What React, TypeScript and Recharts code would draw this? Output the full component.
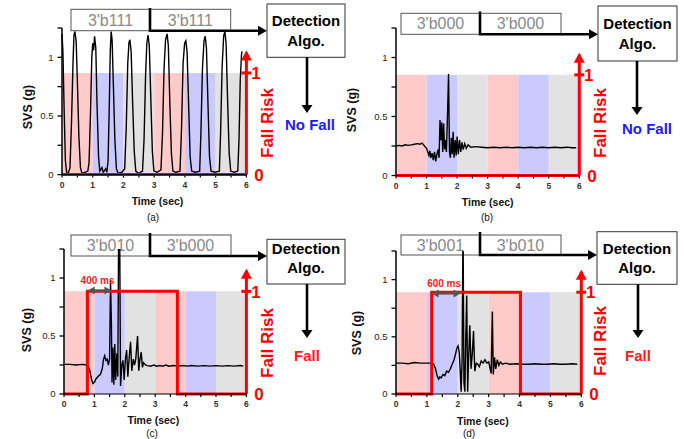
import React from 'react';
import { ComposedChart, Line, XAxis, YAxis, ReferenceArea, ReferenceLine, ReferenceDot } from 'recharts';

const FONT = "'Liberation Sans', Arial, Helvetica, sans-serif";

// ---------- data ----------
const TIME_TICKS = [0, 0.5, 1, 1.5, 2, 2.5, 3, 3.5, 4, 4.5, 5, 5.5, 6];
const TIME_LABELS = [0, 1, 2, 3, 4, 5, 6];
const SVS_TICKS = [0, 0.25, 0.5, 0.75, 1, 1.25];
const SVS_LABELS = [0, 0.5, 1];
const RISK_TICKS = [0, 1];
const RISK_ARROW = 1.2;
const BAND_EDGES = [0, 1, 2, 3, 4, 5, 6];
const BAND_KINDS = ['pink', 'blue', 'gray', 'pink', 'blue', 'gray'];
const BAND_COLORS: Record<string, string> = { pink: '#ffcaca', blue: '#cacaff', gray: '#e2e2e2' };

const svsA: [number, number][] = [
  [0, 1.2], [0.03, 1.05], [0.07, 0.55], [0.11, 0.12], [0.15, 0.02], [0.2, 0.01],
  [0.26, 0.06], [0.31, 0.45], [0.36, 0.97], [0.39, 1.19], [0.42, 1.22], [0.46, 1.14], [0.5, 0.8], [0.55, 0.32], [0.6, 0.06], [0.65, 0.01], [0.75, 0.02], [0.84, 0.03],
  [0.88, 0.1], [0.93, 0.55], [0.97, 1.0], [1.0, 1.12], [1.03, 1.06], [1.06, 1.18], [1.1, 1.08], [1.14, 0.6], [1.19, 0.15], [1.23, 0.03], [1.3, 0.06], [1.34, 0.02], [1.42, 0.05], [1.46, 0.02],
  [1.5, 0.12], [1.54, 0.6], [1.57, 1.05], [1.6, 1.22], [1.63, 1.15], [1.67, 0.78], [1.72, 0.3], [1.77, 0.05], [1.83, 0.01], [1.95, 0.02], [2.04, 0.05],
  [2.09, 0.4], [2.14, 0.95], [2.18, 1.13], [2.21, 1.15], [2.25, 1.05], [2.3, 0.6], [2.35, 0.2], [2.4, 0.03], [2.5, 0.01], [2.62, 0.03],
  [2.67, 0.3], [2.72, 0.85], [2.76, 1.12], [2.8, 1.19], [2.84, 1.1], [2.89, 0.65], [2.94, 0.2], [2.99, 0.03], [3.1, 0.02], [3.22, 0.04],
  [3.27, 0.35], [3.32, 0.9], [3.37, 1.15], [3.42, 1.2], [3.46, 1.1], [3.51, 0.6], [3.56, 0.18], [3.61, 0.03], [3.7, 0.02], [3.84, 0.03],
  [3.89, 0.4], [3.94, 0.95], [3.99, 1.12], [4.03, 1.14], [4.07, 1.05], [4.12, 0.6], [4.17, 0.15], [4.22, 0.03], [4.33, 0.02], [4.48, 0.03],
  [4.52, 0.35], [4.57, 0.9], [4.62, 1.14], [4.66, 1.18], [4.7, 1.08], [4.75, 0.6], [4.8, 0.15], [4.85, 0.03], [4.98, 0.02], [5.12, 0.03],
  [5.16, 0.35], [5.21, 0.92], [5.26, 1.18], [5.3, 1.22], [5.34, 1.12], [5.39, 0.62], [5.44, 0.18], [5.49, 0.03], [5.6, 0.02], [5.72, 0.03],
  [5.76, 0.3], [5.8, 0.8], [5.84, 1.02], [5.86, 1.05],
];

const svsB: [number, number][] = [
  [0, 0.25], [0.1, 0.255], [0.2, 0.25], [0.3, 0.26], [0.4, 0.255], [0.5, 0.26], [0.6, 0.265], [0.7, 0.27], [0.78, 0.265], [0.85, 0.275], [0.9, 0.26], [0.95, 0.245],
  [1.0, 0.23], [1.04, 0.2], [1.08, 0.17], [1.11, 0.21], [1.14, 0.15], [1.18, 0.19], [1.22, 0.13], [1.26, 0.2], [1.3, 0.12], [1.34, 0.18], [1.38, 0.22], [1.41, 0.15],
  [1.44, 0.47], [1.47, 0.3], [1.5, 0.45], [1.53, 0.2], [1.56, 0.44], [1.59, 0.22], [1.62, 0.3], [1.65, 0.2], [1.69, 0.55], [1.72, 0.86], [1.75, 0.2], [1.78, 0.15],
  [1.81, 0.32], [1.84, 0.18], [1.87, 0.37], [1.9, 0.15], [1.94, 0.3], [1.97, 0.17], [2.0, 0.33], [2.04, 0.18], [2.08, 0.3], [2.12, 0.2], [2.16, 0.28], [2.2, 0.22],
  [2.25, 0.27], [2.3, 0.23], [2.36, 0.26], [2.45, 0.24], [2.6, 0.245], [2.8, 0.24], [3.0, 0.235], [3.2, 0.24], [3.4, 0.235], [3.6, 0.24], [3.8, 0.235], [4.0, 0.24],
  [4.2, 0.235], [4.4, 0.24], [4.6, 0.235], [4.8, 0.24], [5.0, 0.235], [5.2, 0.24], [5.4, 0.235], [5.6, 0.24], [5.75, 0.235], [5.9, 0.235],
];

const svsC: [number, number][] = [
  [0, 0.255], [0.2, 0.255], [0.4, 0.25], [0.6, 0.255], [0.75, 0.25], [0.8, 0.24], [0.85, 0.2], [0.9, 0.13], [0.95, 0.09], [1.0, 0.1], [1.05, 0.13], [1.12, 0.15],
  [1.2, 0.17], [1.26, 0.22], [1.3, 0.3], [1.34, 0.33], [1.38, 0.29], [1.42, 0.3], [1.46, 0.25], [1.5, 0.3], [1.53, 0.98], [1.56, 0.6], [1.58, 0.1], [1.61, 0.4],
  [1.64, 0.08], [1.67, 0.43], [1.7, 0.12], [1.74, 0.35], [1.77, 0.15], [1.8, 1.5], [1.83, 1.5], [1.86, 0.07], [1.9, 0.25], [1.94, 0.29], [1.98, 0.12], [2.02, 0.3],
  [2.06, 0.38], [2.1, 0.15], [2.14, 0.3], [2.19, 0.45], [2.23, 0.2], [2.28, 0.3], [2.32, 0.25], [2.36, 0.3], [2.42, 0.5], [2.46, 0.2], [2.5, 0.3], [2.54, 0.36],
  [2.58, 0.23], [2.62, 0.27], [2.68, 0.25], [2.75, 0.245], [2.85, 0.24], [2.95, 0.25], [3.05, 0.24], [3.15, 0.245], [3.25, 0.24], [3.35, 0.25], [3.45, 0.24],
  [3.6, 0.245], [3.75, 0.24], [3.9, 0.245], [4.05, 0.24], [4.2, 0.245], [4.4, 0.24], [4.6, 0.245], [4.8, 0.24], [5.0, 0.245], [5.2, 0.24], [5.4, 0.245],
  [5.6, 0.24], [5.8, 0.245], [5.9, 0.24],
];

const svsD: [number, number][] = [
  [0, 0.27], [0.2, 0.27], [0.4, 0.265], [0.6, 0.275], [0.8, 0.27], [1.0, 0.27], [1.15, 0.27], [1.22, 0.26], [1.28, 0.22], [1.33, 0.16], [1.38, 0.13], [1.42, 0.15],
  [1.46, 0.14], [1.52, 0.17], [1.58, 0.16], [1.64, 0.2], [1.7, 0.19], [1.76, 0.22], [1.82, 0.26], [1.88, 0.3], [1.93, 0.35], [1.97, 0.4], [2.01, 0.42], [2.05, 0.36],
  [2.08, 0.2], [2.11, 0.02], [2.14, 0.3], [2.17, 1.5], [2.2, 0.1], [2.23, 0.02], [2.26, 0.5], [2.29, 0.86], [2.32, 0.02], [2.35, 0.3], [2.39, 0.6], [2.43, 0.22],
  [2.47, 0.35], [2.51, 0.55], [2.55, 0.2], [2.6, 0.27], [2.65, 0.26], [2.7, 0.24], [2.76, 0.29], [2.82, 0.27], [2.88, 0.3], [2.94, 0.27], [3.0, 0.28], [3.05, 0.22],
  [3.08, 0.18], [3.12, 0.72], [3.15, 0.17], [3.19, 0.32], [3.23, 0.22], [3.28, 0.3], [3.33, 0.25], [3.38, 0.28], [3.45, 0.26], [3.55, 0.27], [3.7, 0.26],
  [3.9, 0.265], [4.1, 0.26], [4.3, 0.26], [4.5, 0.265], [4.7, 0.26], [4.9, 0.26], [5.1, 0.265], [5.3, 0.26], [5.5, 0.26], [5.7, 0.265], [5.87, 0.26],
];

const riskA: [number, number][] = [[0, 0], [6, 0]];
const riskB: [number, number][] = [[0, 0], [6, 0]];
const riskC: [number, number][] = [[0, 0], [0.77, 1], [3.73, 0], [6, 0]];
const riskD: [number, number][] = [[0, 0], [1.155, 1], [4.03, 0], [6, 0]];

const codesA = ["3'b111", "3'b111"];
const codesB = ["3'b000", "3'b000"];
const codesC = ["3'b010", "3'b000"];
const codesD = ["3'b001", "3'b010"];
const resultA = 'No Fall';
const resultB = 'No Fall';
const resultC = 'Fall';
const resultD = 'Fall';
const delayC = { label: '400 ms', from: 0.77, to: 1.55 };
const delayD = { label: '600 ms', from: 1.155, to: 2.09 };

// ---------- layout ----------
type Geo = { x0: number; x6: number; y0: number; y1: number; band: number };
const GEO: Record<string, Geo> = {
  a: { x0: 62.3, x6: 246.7, y0: 175, y1: 57.7, band: 0.867 },
  b: { x0: 396, x6: 579.3, y0: 175.7, y1: 57.7, band: 0.853 },
  c: { x0: 64.3, x6: 246.7, y0: 393.7, y1: 277.7, band: 0.885 },
  d: { x0: 396, x6: 581.3, y0: 393.7, y1: 279.3, band: 0.89 },
};

type Lay = {
  boxX: number[]; boxY: number[]; stemTop: number; det: number[]; detText: number[];
  arrowX: number; arrowTip: number; result: number[]; resultColor: string;
  riskLbl: number[]; svsLbl: number[]; timeLbl: number[]; letter: number[]; letterText: string;
};
const LAY: Record<string, Lay> = {
  a: { boxX: [71, 150, 230.7], boxY: [9.3, 30.7], stemTop: 8, det: [267, 4, 345, 57.3], detText: [20.5, 40.5], arrowX: 307, arrowTip: 113, result: [310, 124], resultColor: '#1a1aff', riskLbl: [267, 123], svsLbl: [28, 107], timeLbl: [157.5, 201], letter: [153, 221], letterText: '(a)' },
  b: { boxX: [401, 480, 561], boxY: [13.3, 34.3], stemTop: 11.5, det: [598, 6, 677, 61], detText: [23.3, 43.3], arrowX: 637, arrowTip: 115, result: [647, 128], resultColor: '#1a1aff', riskLbl: [600, 123], svsLbl: [352, 110], timeLbl: [487.7, 201.7], letter: [487, 221], letterText: '(b)' },
  c: { boxX: [71, 150, 231], boxY: [235, 256], stemTop: 233, det: [267, 239.3, 345, 284], detText: [248.3, 267.3], arrowX: 307, arrowTip: 338, result: [307, 355], resultColor: '#ff1a1a', riskLbl: [267, 343], svsLbl: [26.7, 330], timeLbl: [153.3, 420], letter: [152, 437], letterText: '(c)' },
  d: { boxX: [401, 480, 561], boxY: [235, 255], stemTop: 232, det: [597, 231.7, 677, 284.3], detText: [248.3, 267.3], arrowX: 638, arrowTip: 338, result: [638, 355], resultColor: '#ff1a1a', riskLbl: [600, 341], svsLbl: [357, 333], timeLbl: [482.8, 420.5], letter: [469, 437], letterText: '(d)' },
};

// ---------- ticks ----------
const SvsTick = (p: any) => {
  const v = p.payload.value;
  return (
    <g>
      <line x1={p.x - 4.5} x2={p.x} y1={p.y} y2={p.y} stroke="#000" strokeWidth={1.3} />
      {SVS_LABELS.includes(v) && (
        <text x={p.x - 8.5} y={p.y + 3.4} textAnchor="end" fontSize={9.5} fill="#222" fontFamily={FONT}>{v}</text>
      )}
    </g>
  );
};

const TimeTick = (p: any) => {
  const v = p.payload.value;
  return (
    <g>
      <line x1={p.x} x2={p.x} y1={p.y} y2={p.y + 3} stroke="#000" strokeWidth={1.2} />
      {TIME_LABELS.includes(v) && (
        <text x={p.x} y={p.y + 13.5} textAnchor="middle" fontSize={8.5} fontWeight="bold" fill="#333" fontFamily={FONT}>{v}</text>
      )}
    </g>
  );
};

const RiskTick = (p: any) => {
  const v = p.payload.value;
  if (v === 1) {
    return (
      <g>
        <line x1={p.x - 5} x2={p.x + 5} y1={p.y} y2={p.y} stroke="#ff0000" strokeWidth={3} />
        <text x={p.x + 9.5} y={p.y + 6.2} textAnchor="middle" fontSize={17} fontWeight="bold" fill="#ff0000" fontFamily={FONT}>1</text>
      </g>
    );
  }
  return (
    <g>
      <text x={p.x + 12.6} y={p.y + 6.2} textAnchor="middle" fontSize={17} fontWeight="bold" fill="#ff0000" fontFamily={FONT}>0</text>
    </g>
  );
};

const RiskArrowHead = (p: any) => (
  <polygon points={`${p.cx - 5.5},${p.cy + 8} ${p.cx + 5.5},${p.cy + 8} ${p.cx},${p.cy - 2}`} fill="#ff0000" />
);

// ---------- panel chart ----------
function Panel({ g, svs, risk }: { g: Geo; svs: [number, number][]; risk: [number, number][] }) {
  const yTop = g.y0 - 1.25 * (g.y0 - g.y1);
  const left = g.x0 - 45;
  const top = yTop - 5;
  const width = g.x6 + 45 - left;
  const height = g.y0 + 25 - top;
  const svsData = svs.map(([t, v]) => ({ t, v }));
  const riskData = risk.map(([t, r]) => ({ t, r }));
  const riskMax = 1.25 / g.band;
  return (
    <div style={{ position: 'absolute', left, top, width, height }}>
      <ComposedChart width={width} height={height} margin={{ top: 5, right: 5, bottom: 5, left: 5 }}>
        <XAxis dataKey="t" type="number" domain={[0, 6]} ticks={TIME_TICKS} interval={0} height={20}
          tickSize={0} tickMargin={0} tickLine={false} axisLine={{ stroke: '#000', strokeWidth: 1.2 }} tick={TimeTick} />
        <YAxis yAxisId="svs" type="number" domain={[0, 1.25]} ticks={SVS_TICKS} interval={0} width={40}
          tickSize={0} tickMargin={0} tickLine={false} axisLine={{ stroke: '#000', strokeWidth: 1.5 }} tick={SvsTick} allowDataOverflow />
        <YAxis yAxisId="risk" orientation="right" type="number" domain={[0, riskMax]} ticks={RISK_TICKS} interval={0} width={40}
          tickSize={0} tickMargin={0} tickLine={false} axisLine={false} tick={RiskTick} />
        {BAND_KINDS.map((k, i) => (
          <ReferenceArea key={i} yAxisId="risk" x1={BAND_EDGES[i]} x2={BAND_EDGES[i + 1]} y1={0} y2={1}
            fill={BAND_COLORS[k]} fillOpacity={1} stroke="none" />
        ))}
        <Line yAxisId="svs" data={svsData} dataKey="v" type="linear" stroke="#000" strokeWidth={1.4}
          dot={false} activeDot={false} isAnimationActive={false} />
        <Line yAxisId="risk" data={riskData} dataKey="r" type="stepAfter" stroke="#ff0000" strokeWidth={3}
          dot={false} activeDot={false} isAnimationActive={false} />
        <ReferenceLine yAxisId="risk" segment={[{ x: 6, y: 0 }, { x: 6, y: RISK_ARROW }]} stroke="#ff0000" strokeWidth={3} />
        <ReferenceDot yAxisId="risk" x={6} y={RISK_ARROW} r={4} shape={RiskArrowHead} />
      </ComposedChart>
    </div>
  );
}

// ---------- annotations ----------
function Annot({ L, codes, result }: { L: Lay; codes: string[]; result: string }) {
  const [bx0, bx1, bx2] = L.boxX;
  const [by0, by1] = L.boxY;
  const [dx0, dy0, dx1, dy1] = L.det;
  const dcx = (dx0 + dx1) / 2;
  return (
    <g fontFamily={FONT}>
      <rect x={bx0} y={by0} width={bx1 - bx0} height={by1 - by0} fill="#fff" stroke="#555" strokeWidth={1} />
      <rect x={bx1} y={by0} width={bx2 - bx1} height={by1 - by0} fill="#fff" stroke="#555" strokeWidth={1} />
      <text x={(bx0 + bx1) / 2} y={(by0 + by1) / 2} dominantBaseline="central" textAnchor="middle" fontSize={16} fill="#8a8a8a">{codes[0]}</text>
      <text x={(bx1 + bx2) / 2} y={(by0 + by1) / 2} dominantBaseline="central" textAnchor="middle" fontSize={16} fill="#8a8a8a">{codes[1]}</text>
      <path d={`M${bx1},${L.stemTop} V${by1} H${dx0 - 8}`} fill="none" stroke="#000" strokeWidth={2.6} />
      <polygon points={`${dx0},${by1} ${dx0 - 9},${by1 - 5} ${dx0 - 9},${by1 + 5}`} fill="#000" />
      <rect x={dx0} y={dy0} width={dx1 - dx0} height={dy1 - dy0} fill="#fff" stroke="#333" strokeWidth={1} />
      <text x={dcx} y={L.detText[0]} dominantBaseline="central" textAnchor="middle" fontSize={15} fontWeight="bold" fill="#000">Detection</text>
      <text x={dcx} y={L.detText[1]} dominantBaseline="central" textAnchor="middle" fontSize={15} fontWeight="bold" fill="#000">Algo.</text>
      <line x1={L.arrowX} x2={L.arrowX} y1={dy1} y2={L.arrowTip - 7} stroke="#000" strokeWidth={2.6} />
      <polygon points={`${L.arrowX},${L.arrowTip} ${L.arrowX - 5.5},${L.arrowTip - 8} ${L.arrowX + 5.5},${L.arrowTip - 8}`} fill="#000" />
      <text x={L.result[0]} y={L.result[1]} dominantBaseline="central" textAnchor="middle" fontSize={15} fontWeight="bold" fill={L.resultColor}>{result}</text>
      <text x={L.riskLbl[0]} y={L.riskLbl[1]} transform={`rotate(-90 ${L.riskLbl[0]} ${L.riskLbl[1]})`} dominantBaseline="central" textAnchor="middle" fontSize={17} fontWeight="bold" fill="#ff0000">Fall Risk</text>
      <text x={L.svsLbl[0]} y={L.svsLbl[1]} transform={`rotate(-90 ${L.svsLbl[0]} ${L.svsLbl[1]})`} dominantBaseline="central" textAnchor="middle" fontSize={12.5} fontWeight="bold" fill="#111">SVS (g)</text>
      <text x={L.timeLbl[0]} y={L.timeLbl[1]} dominantBaseline="central" textAnchor="middle" fontSize={10.5} fontWeight="bold" fill="#111">Time (sec)</text>
      <text x={L.letter[0]} y={L.letter[1]} textAnchor="middle" fontSize={10} fill="#111">{L.letterText}</text>
    </g>
  );
}

function Delay({ g, d, y }: { g: Geo; d: { label: string; from: number; to: number }; y: number }) {
  const sx = (t: number) => g.x0 + (t * (g.x6 - g.x0)) / 6;
  const a = sx(d.from);
  const b = sx(d.to);
  return (
    <g fontFamily={FONT}>
      <line x1={a + 6} x2={b - 6} y1={y} y2={y} stroke="#555" strokeWidth={2.2} />
      <polygon points={`${a},${y} ${a + 7},${y - 4} ${a + 7},${y + 4}`} fill="#555" />
      <polygon points={`${b},${y} ${b - 7},${y - 4} ${b - 7},${y + 4}`} fill="#555" />
      <text x={(a + b) / 2 - 2} y={y - 10} dominantBaseline="central" textAnchor="middle" fontSize={10} fontWeight="bold" fill="#ff1a1a">{d.label}</text>
    </g>
  );
}

export default function App() {
  return (
    <div style={{ position: 'absolute', left: 0, top: 0, width: 684, height: 439, background: '#fff', overflow: 'hidden' }}>
      <svg width={684} height={439} style={{ position: 'absolute', left: 0, top: 0 }}>
        <Annot L={LAY.a} codes={codesA} result={resultA} />
        <Annot L={LAY.b} codes={codesB} result={resultB} />
        <Annot L={LAY.c} codes={codesC} result={resultC} />
        <Annot L={LAY.d} codes={codesD} result={resultD} />
      </svg>
      <Panel g={GEO.a} svs={svsA} risk={riskA} />
      <Panel g={GEO.b} svs={svsB} risk={riskB} />
      <Panel g={GEO.c} svs={svsC} risk={riskC} />
      <Panel g={GEO.d} svs={svsD} risk={riskD} />
      <svg width={684} height={439} style={{ position: 'absolute', left: 0, top: 0, pointerEvents: 'none' }}>
        <Delay g={GEO.c} d={delayC} y={290.5} />
        <Delay g={GEO.d} d={delayD} y={293.5} />
      </svg>
    </div>
  );
}
